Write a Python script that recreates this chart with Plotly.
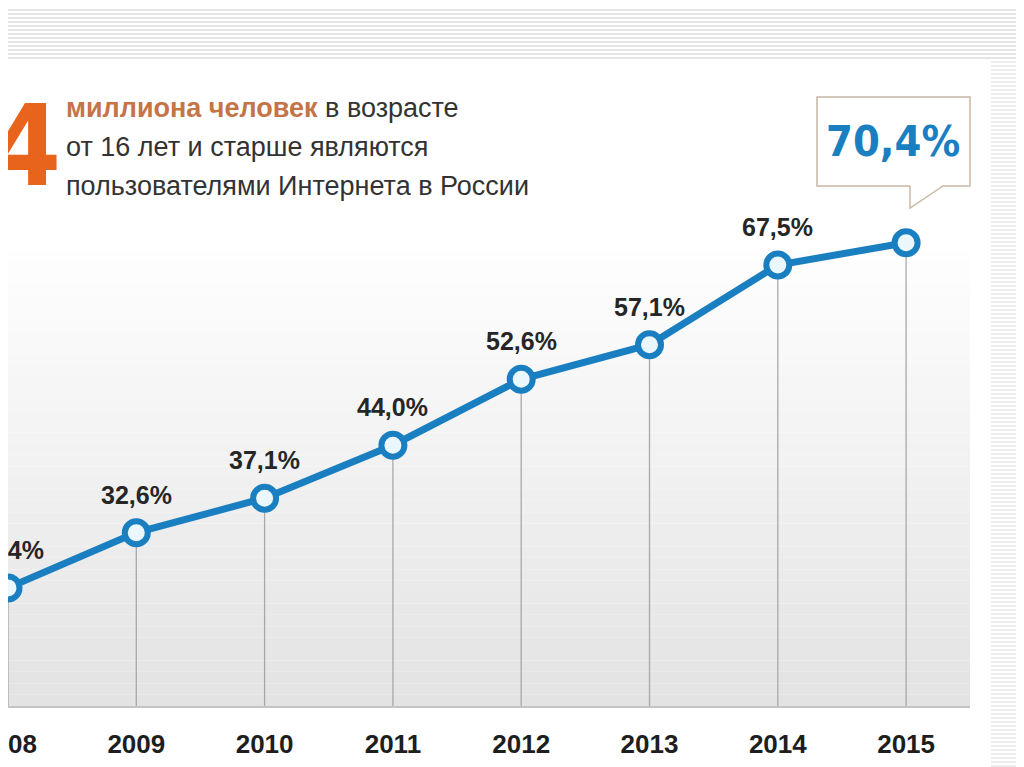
import plotly.graph_objects as go

# данные
years = [2008, 2009, 2010, 2011, 2012, 2013, 2014, 2015]
share = [25.4, 32.6, 37.1, 44.0, 52.6, 57.1, 67.5, 70.4]
labels = ["25,4%", "32,6%", "37,1%", "44,0%", "52,6%", "57,1%", "67,5%", ""]
callout_text = "70,4%"
big_digit = "4"
header_lines = [
    "<b><span style='color:#c57447'>миллиона человек</span></b> в возрасте",
    "от 16 лет и старше являются",
    "пользователями Интернета в России",
]

# the page body has an 8px margin, so the figure sits at (8, 8) in the window
OFF = 8
FW, FH = 1024 - OFF, 767 - OFF
L, R, T, B = 8, 970, 60, 706   # plot area, window pixels
BLUE = "#1a7fc1"
COND = "DejaVu Sans Condensed, Roboto Condensed, Roboto, sans-serif"


def px(xp):
    return (xp - L) / (R - L)


def py(yp):
    return (B - yp) / (B - T)


fig = go.Figure()

# vertical drop lines from each point to the bottom axis
drop_x, drop_y = [], []
for yr, v in zip(years, share):
    drop_x += [yr, yr, None]
    drop_y += [v, 10, None]
fig.add_trace(go.Scatter(x=drop_x, y=drop_y, mode="lines",
                         line=dict(color="#a8a8a8", width=1.3),
                         hoverinfo="skip", showlegend=False))

fig.add_trace(go.Scatter(
    x=years, y=share, mode="lines+markers",
    line=dict(color=BLUE, width=7),
    marker=dict(size=23, color="#eaf7fd", line=dict(color=BLUE, width=6)),
    showlegend=False, cliponaxis=False,
))

shapes = []

# gradient background of plot area (white -> light gray)
n = 40
g_top = 250
for i in range(n):
    y0 = g_top + (B - g_top) * i / n
    y1 = g_top + (B - g_top) * (i + 1) / n
    c = int(255 - 28 * (i + 0.5) / n)
    shapes.append(dict(type="rect", xref="paper", yref="paper",
                       x0=0, x1=1, y0=py(y1), y1=py(y0),
                       fillcolor=f"rgb({c},{c},{c})", line=dict(width=0),
                       layer="below"))

# striped band on top
for k in range(13):
    yy = 10 + k * 4
    shapes.append(dict(type="line", xref="paper", yref="paper",
                       x0=px(OFF), x1=px(1024), y0=py(yy), y1=py(yy),
                       line=dict(color="#dcdcdc", width=1.5)))
# striped band on right
for k in range(177):
    yy = 62 + k * 4
    shapes.append(dict(type="line", xref="paper", yref="paper",
                       x0=px(991), x1=px(1024), y0=py(yy), y1=py(yy),
                       line=dict(color="#dcdcdc", width=1.2)))

# callout box with tail
shapes.append(dict(type="rect", xref="paper", yref="paper",
                   x0=px(817), x1=px(970), y0=py(186), y1=py(97),
                   fillcolor="white", line=dict(color="#c9b8a6", width=1.5)))
shapes.append(dict(type="path", xref="paper", yref="paper",
                   path=f"M {px(910)} {py(185)} L {px(910)} {py(208)} L {px(943)} {py(185)} Z",
                   fillcolor="white", line=dict(width=0)))
shapes.append(dict(type="path", xref="paper", yref="paper",
                   path=f"M {px(910)} {py(186)} L {px(910)} {py(208)} L {px(943)} {py(186)}",
                   line=dict(color="#c9b8a6", width=1.5)))

annotations = [
    dict(text=f"<b>{callout_text}</b>", xref="paper", yref="paper",
         x=px(893), y=py(141), xanchor="center", yanchor="middle",
         showarrow=False,
         font=dict(family=COND, size=43, color=BLUE)),
    dict(text=f"<b>{big_digit}</b>", xref="paper", yref="paper",
         x=px(63), y=py(146), xanchor="right", yanchor="middle",
         showarrow=False,
         font=dict(family=COND, size=112, color="#e8641c")),
]
for i, line in enumerate(header_lines):
    annotations.append(dict(text=line, xref="paper", yref="paper",
                            x=px(64), y=py(108 + 39 * i),
                            xanchor="left", yanchor="middle", showarrow=False,
                            font=dict(family="Liberation Sans", size=27,
                                      color="#333333")))

# value labels above points
for yr, v, lab in zip(years, share, labels):
    if lab:
        annotations.append(dict(text=f"<b>{lab}</b>", x=yr, y=v, xref="x", yref="y",
                                yshift=38, showarrow=False,
                                xanchor="center", yanchor="middle",
                                font=dict(family="Liberation Sans", size=25,
                                          color="#262626")))

fig.update_layout(
    width=FW, height=FH,
    margin=dict(l=L - OFF, r=1024 - R, t=T - OFF, b=767 - B),
    paper_bgcolor="white", plot_bgcolor="white",
    shapes=shapes, annotations=annotations,
    xaxis=dict(range=[2008, 2008 + (R - L) / 128.3],
               tickvals=years, ticktext=[f"<b>{y}</b>" for y in years],
               showgrid=False, zeroline=False, automargin=False,
               showline=True, linecolor="#c4c4c4", linewidth=2,
               ticks="", ticklabelstandoff=14, ticklabeloverflow="allow",
               tickfont=dict(family="Liberation Sans", size=26, color="#1e1e1e")),
    yaxis=dict(range=[10, 10 + (B - T) / 7.67], visible=False, automargin=False),
)

fig.write_html("out.html")
